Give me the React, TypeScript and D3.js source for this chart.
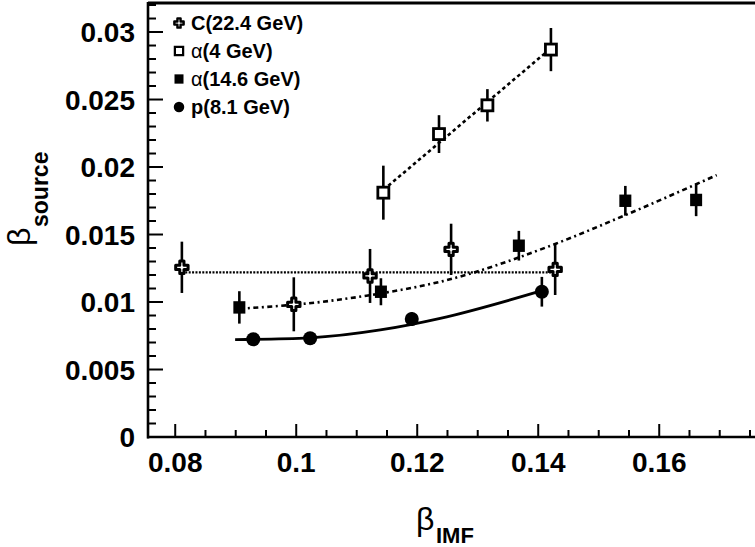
import React from "react";
import * as d3 from "d3";

// ---- data ----
const cX = [0.0811, 0.0996, 0.1122, 0.1256, 0.1428];
const cY = [0.01257, 0.00983, 0.01193, 0.0139, 0.01242];
const cErr = [0.0019, 0.002, 0.002, 0.0019, 0.0019];
const cFitX = [0.0811, 0.1428];
const cFitY = [0.0122, 0.0122];

const a4X = [0.1144, 0.1236, 0.1316, 0.1421];
const a4Y = [0.0181, 0.02244, 0.02457, 0.0287];
const a4Err = [0.002, 0.0014, 0.0012, 0.0016];
const a4FitX = [0.1144, 0.1421];
const a4FitY = [0.0183, 0.0288];

const a14X = [0.0906, 0.114, 0.1368, 0.1544, 0.1661];
const a14Y = [0.0096, 0.01076, 0.01417, 0.0175, 0.01756];
const a14Err = [0.0012, 0.001, 0.0011, 0.0011, 0.0012];
const a14FitX = [0.0906, 0.104, 0.114, 0.1238, 0.1428, 0.1544, 0.1695];
const a14FitY = [0.0095, 0.01, 0.01064, 0.0115, 0.0143, 0.01644, 0.0194];

const pX = [0.0929, 0.1023, 0.1191, 0.1406];
const pY = [0.00724, 0.00731, 0.00874, 0.01076];
const pErr = [0.0004, 0.0004, 0.0005, 0.0011];
const pFitX = [0.0899, 0.1023, 0.1139, 0.1238, 0.1406];
const pFitY = [0.00722, 0.00735, 0.00793, 0.00879, 0.01084];

const xTickVals = [0.08, 0.1, 0.12, 0.14, 0.16];
const xTickLabels = ["0.08", "0.1", "0.12", "0.14", "0.16"];
const yTickVals = [0, 0.005, 0.01, 0.015, 0.02, 0.025, 0.03];
const yTickLabels = ["0", "0.005", "0.01", "0.015", "0.02", "0.025", "0.03"];

const legendLabels = ["C(22.4 GeV)", "α(4 GeV)", "α(14.6 GeV)", "p(8.1 GeV)"];

const W = 755;
const H = 547;
const FONT = "'Liberation Sans', Arial, Helvetica, sans-serif";

const x = d3.scaleLinear().domain([0.0755, 0.1755]).range([148, 753]);
const y = d3.scaleLinear().domain([0, 0.03215]).range([437, 3]);

function crossPath(a: number, b: number) {
  return `M${-b},${-a}L${b},${-a}L${b},${-b}L${a},${-b}L${a},${b}L${b},${b}L${b},${a}L${-b},${a}L${-b},${b}L${-a},${b}L${-a},${-b}L${-b},${-b}Z`;
}

type Kind = "cross" | "open" | "filled" | "circle";

function Marker({ kind, cx, cy, s = 1 }: { kind: Kind; cx: number; cy: number; s?: number }) {
  if (kind === "cross")
    return (
      <path d={crossPath(6.2 * s, 2.1 * s)} transform={`translate(${cx},${cy})`} fill="#fff" stroke="#000" strokeWidth={3 * Math.max(s, 0.8)} strokeLinejoin="round" />
    );
  if (kind === "open")
    return <rect x={cx - 5.5 * s} y={cy - 5.5 * s} width={11 * s} height={11 * s} fill="#fff" stroke="#000" strokeWidth={2.8 * Math.max(s, 0.8)} />;
  if (kind === "filled")
    return <rect x={cx - 6 * s} y={cy - 6.2 * s} width={12 * s} height={12.4 * s} fill="#000" />;
  return <circle cx={cx} cy={cy} r={7 * s} fill="#000" />;
}

function Series({ xs, ys, errs, kind }: { xs: number[]; ys: number[]; errs: number[]; kind: Kind }) {
  return (
    <g>
      {xs.map((v, i) => (
        <g key={i}>
          <line x1={x(v)} x2={x(v)} y1={y(ys[i] - errs[i])} y2={y(ys[i] + errs[i])} stroke="#000" strokeWidth={2.6} />
          <Marker kind={kind} cx={x(v)} cy={y(ys[i])} />
        </g>
      ))}
    </g>
  );
}

function fitPath(xs: number[], ys: number[]) {
  const line = d3
    .line<number>()
    .x((d) => x(d))
    .y((_, i) => y(ys[i]))
    .curve(d3.curveMonotoneX);
  return line(xs) || "";
}

export default function App() {
  const xMinor = d3.range(0.08, 0.1755, 0.005);
  const yMinor = d3.range(0, 0.0321, 0.001);
  const x0 = x.range()[0];
  const y0 = y.range()[0];
  const legendKinds: Kind[] = ["cross", "open", "filled", "circle"];
  const legendY = [23, 51, 79, 107];
  return (
    <svg width={W} height={H} style={{ position: "absolute", left: 0, top: 0, background: "#fff" }} fontFamily={FONT}>
      <rect width={W} height={H} fill="#fff" />
      {/* frame */}
      <line x1={x0} x2={W} y1={3} y2={3} stroke="#000" strokeWidth={3} />
      <line x1={x0} x2={x0} y1={2} y2={y0 + 1.5} stroke="#000" strokeWidth={2.6} />
      <line x1={x0 - 1} x2={W} y1={y0} y2={y0} stroke="#000" strokeWidth={2.6} />
      {/* x ticks */}
      {xMinor.map((v, i) => {
        const major = xTickVals.some((t) => Math.abs(t - v) < 1e-6);
        return <line key={i} x1={x(v)} x2={x(v)} y1={y0} y2={y0 - (major ? 13 : 7)} stroke="#000" strokeWidth={2} />;
      })}
      {xTickVals.map((v, i) => (
        <text key={i} x={x(v)} y={472} textAnchor="middle" fontSize={28} fontWeight="bold">
          {xTickLabels[i]}
        </text>
      ))}
      {/* y ticks */}
      {yMinor.map((v, i) => {
        const major = yTickVals.some((t) => Math.abs(t - v) < 1e-7);
        return <line key={i} x1={x0} x2={x0 + (major ? 15 : 8)} y1={y(v)} y2={y(v)} stroke="#000" strokeWidth={2} />;
      })}
      {yTickVals.map((v, i) => (
        <text key={i} x={135} y={y(v) + 10} textAnchor="end" fontSize={28} fontWeight="bold">
          {yTickLabels[i]}
        </text>
      ))}
      {/* axis titles */}
      <g transform="rotate(-90)">
        <text x={-246} y={30} fontSize={32}>β</text>
        <text x={-227} y={48} fontSize={23} fontWeight="bold">source</text>
      </g>
      <text x={416} y={530} fontSize={32}>β</text>
      <text x={436} y={543} fontSize={22} fontWeight="bold">IMF</text>
      {/* fits */}
      <path d={fitPath(cFitX, cFitY)} fill="none" stroke="#000" strokeWidth={2.2} strokeDasharray="2,1.4" />
      <path d={fitPath(a4FitX, a4FitY)} fill="none" stroke="#000" strokeWidth={2.6} strokeDasharray="3.5,3" />
      <path d={fitPath(a14FitX, a14FitY)} fill="none" stroke="#000" strokeWidth={2.6} strokeDasharray="5,3.5,2,3.5" />
      <path d={fitPath(pFitX, pFitY)} fill="none" stroke="#000" strokeWidth={2.8} />
      {/* data */}
      <Series xs={cX} ys={cY} errs={cErr} kind="cross" />
      <Series xs={a4X} ys={a4Y} errs={a4Err} kind="open" />
      <Series xs={a14X} ys={a14Y} errs={a14Err} kind="filled" />
      <Series xs={pX} ys={pY} errs={pErr} kind="circle" />
      {/* legend */}
      {legendLabels.map((lab, i) => {
        const isAlpha = lab.startsWith("α");
        return (
          <g key={i}>
            <Marker kind={legendKinds[i]} cx={179} cy={legendY[i]} s={0.75} />
            <text x={191} y={legendY[i] + 7} fontSize={20} fontWeight="bold">
              {isAlpha ? (
                <>
                  <tspan fontWeight="normal">α</tspan>
                  {lab.slice(1)}
                </>
              ) : (
                lab
              )}
            </text>
          </g>
        );
      })}
    </svg>
  );
}
